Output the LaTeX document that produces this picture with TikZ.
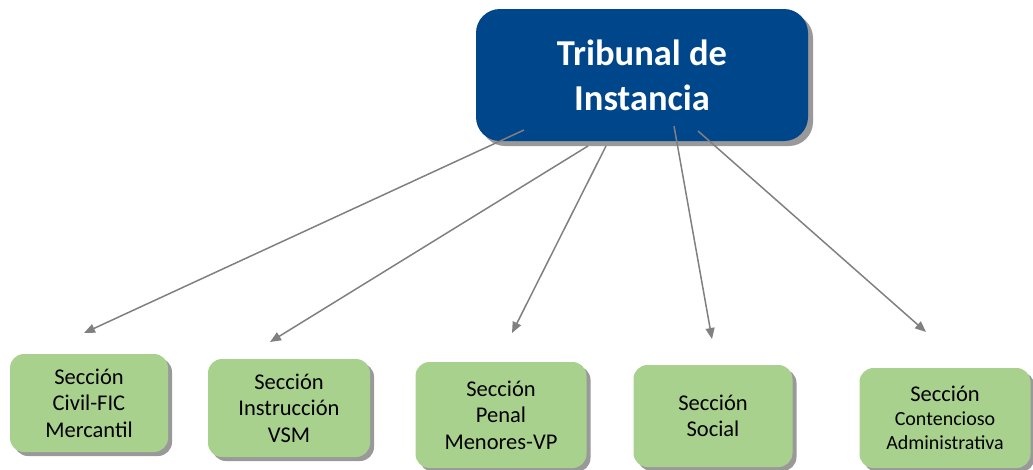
\documentclass[tikz,border=0pt]{standalone}
\usepackage{fontspec}
\setmainfont{Carlito}
\usetikzlibrary{arrows.meta}
\usetikzlibrary{shadows}

\definecolor{tribblue}{RGB}{0,70,138}
\definecolor{secgreen}{RGB}{169,209,142}
\definecolor{arrgray}{RGB}{128,128,128}

\tikzset{
  topbox/.style={draw=none, fill=tribblue, rounded corners=24pt, text=white,
    minimum width=332pt, minimum height=132pt, align=center,
    font=\bfseries\fontsize{36.5}{45}\selectfont,
    drop shadow={shadow xshift=5pt, shadow yshift=-5pt, fill=black!40, opacity=1}},
  secbox/.style={draw=none, fill=secgreen, rounded corners=14pt, align=center,
    font=\fontsize{22.5}{26.5}\selectfont,
    drop shadow={shadow xshift=4pt, shadow yshift=-4pt, fill=black!40, opacity=1}},
  link/.style={draw=arrgray, line width=1.5pt, -{Triangle[length=11pt,width=9pt]}}
}

\begin{document}
\begin{tikzpicture}[x=1pt, y=-1pt]
	\useasboundingbox (0,0) rectangle (1033,469);
	% top node
	\node[topbox] (trib) at (642,75) {Tribunal de\\Instancia};
	% sections
	\node[secbox, minimum width=158pt, minimum height=98pt] (civil) at (89,403) {Sección\\Civil-FIC\\Mercantil};
	\node[secbox, minimum width=162pt, minimum height=98pt] (instr) at (289,408) {Sección\\Instrucción\\VSM};
	\node[secbox, minimum width=171pt, minimum height=106pt] (penal) at (501,415) {Sección\\Penal\\Menores-VP};
	\node[secbox, minimum width=159pt, minimum height=102pt] (social) at (713,416) {Sección\\Social};
	\node[secbox, minimum width=171pt, minimum height=100pt, font=\fontsize{20}{24}\selectfont] (contad) at (945,418) {{\fontsize{22.5}{24}\selectfont Sección}\\Contencioso\\Administrativa};
	% arrow ends
	\coordinate (tcivil) at (524,130);
	\coordinate (tinstr) at (588,146);
	\coordinate (tpenal) at (606,146);
	\coordinate (tsocial) at (674,126);
	\coordinate (tcontad) at (698,131);
	\coordinate (hcivil) at (84,333);
	\coordinate (hinstr) at (270,342);
	\coordinate (hpenal) at (512,333);
	\coordinate (hsocial) at (712,339);
	\coordinate (hcontad) at (926,332);
	\foreach \s in {civil,instr,penal,social,contad}
	\draw[link] (t\s) -- (h\s);
\end{tikzpicture}
\end{document}
